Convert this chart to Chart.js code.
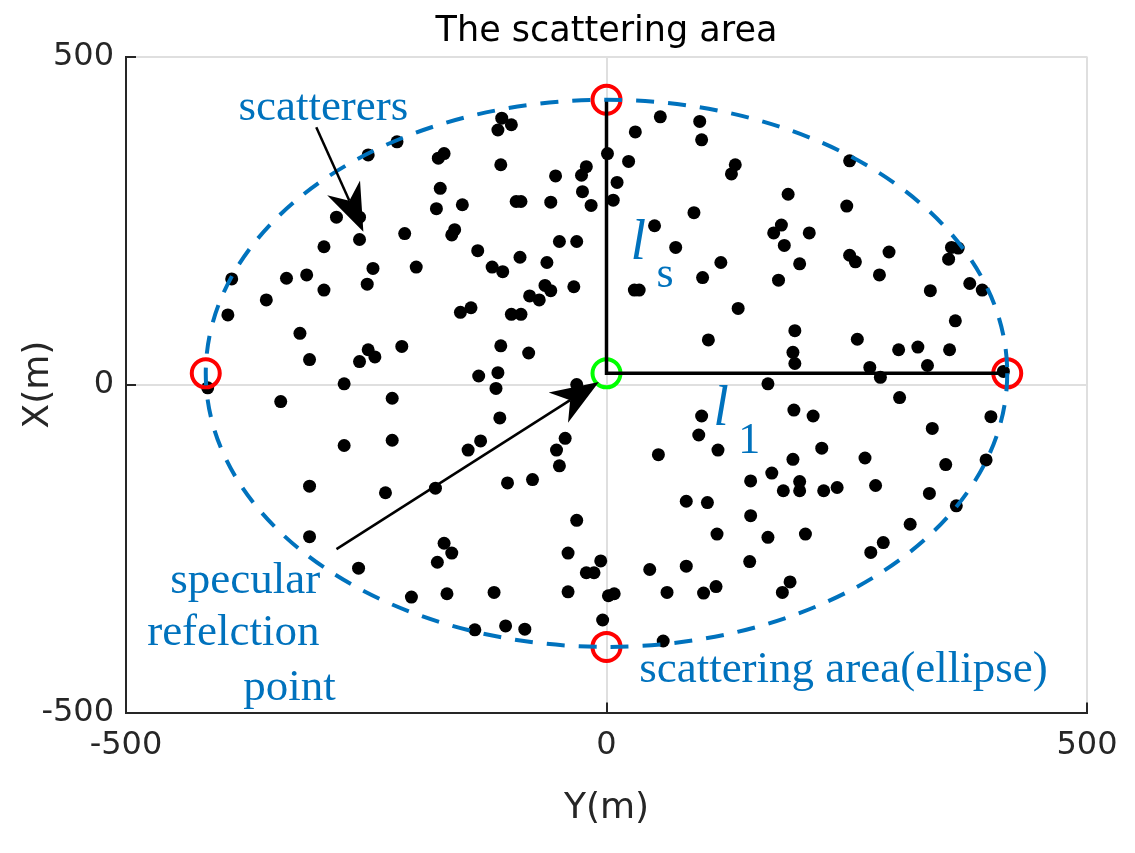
<!DOCTYPE html>
<html>
<head>
<meta charset="utf-8">
<title>The scattering area</title>
<script src="https://cdn.jsdelivr.net/npm/chart.js@4.4.1/dist/chart.umd.min.js"></script>
<style>
  html, body { margin: 0; padding: 0; background: #ffffff; }
  #chart { display: block; }
</style>
</head>
<body>
<canvas id="chart" width="1135" height="853"></canvas>
<script>
// scatterer positions (m)
const scatterX = [
  -218, -248, -175, -169, -173, -177, -281, -257, -257, -210, -161, -158, -294, -243, -198, -390,
  -333, -312, -294, -249, -354, -394, -319, -213, -248, -241, -257, -309, -273, -415, -152, -141,
  -109, -99, -113, 56, 97, 99, 30, 1, 23, 134, 130, -110, -53, -21, -26, 11, -25, -16, -94, -89,
  -58, -150, 7, 91, 50, -134, -49, -31, 72, -90, -119, -108, -62, 119, 100, -64, -58, -34, 29, 34,
  -80, -70, 137, -99, -89, 106, -110, -81, -133, -113, -31, -115, 168,
  253, 189, 250, 174, 182, 211, 185, 253, 259, 294, 201, 359, 366, 356, 284, 179, 378, 391, 337,
  363, 196, 261, 194, 196, 304, 324, 357, 274, 334, 285, 413,
  -223, -339, -273, -223, -309, -230, -178, -309, -169, -161, -176, -258, -203, -166,
  -111, -131, -144, -43, -52, -49, -103, -77, -31, -40, -6, -21, -13, -117, -40, 2, 8, -4, -137,
  -105, -85, 59, 99, 96, 116, 54, 150, 172, 83, 105, 150, 115, 168, 45, 83, 149, 63, 101, 114,
  305, 195, 215, 339, 400, 224, 194, 269, 353, 395, 201, 184, 201, 226, 240, 280, 336, 364, 316,
  207, 288, 275, 191, 183
];
const scatterY = [
  370, 350, 345, 352, 299, 268, 255, 255, 221, 230, 228, 236, 210, 177, 179, 161,
  162, 167, 144, 153, 129, 106, 78, 58, 53, 42, 35, 38, 1, -5, 110, 117,
  406, 396, 388, 408, 401, 373, 385, 352, 340, 335, 321, 335, 318, 332, 319, 308, 294, 273, 279, 279,
  278, 274, 281, 262, 242, 204, 218, 218, 209, 194, 179, 172, 186, 186, 163, 151, 143, 149, 144, 144,
  135, 129, 116, 107, 107, 68, 59, 48, 13, 18, 0, -6, 1,
  341, 290, 272, 231, 243, 231, 212, 197, 187, 202, 184, 209, 208, 191, 167, 159, 154, 144, 143,
  97, 82, 69, 49, 32, 53, 57, 53, 26, 29, 11, 20,
  -21, -26, -93, -85, -155, -165, -158, -232, -242, -257, -271, -280, -324, -319,
  -51, -86, -100, -82, -100, -124, -150, -145, -207, -257, -269, -287, -287, -317, -316, -322, -319, -359, -374,
  -368, -373, -391, -48, -77, -100, -107, -147, -135, -178, -180, -200, -228, -233, -282, -277, -270, -317, -318, -308,
  -20, -39, -48, -67, -49, -97, -114, -112, -122, -115, -148, -162, -162, -162, -157, -154, -166, -185, -213,
  -228, -241, -256, -301, -317
];

// ellipse vertices (red), specular point (green), l_s / l_1 segments
const vertexX = [-417, 417, 0, 0];
const vertexY = [17, 17, 434, -400];
const specularX = [0];
const specularY = [17];
const segmentX = [0, 0, 417];
const segmentY = [434, 17, 17];
const ellipseCenter = [0, 17];
const ellipseRadius = [417, 417];

const tickValues = [-500, 0, 500];

// annotation anchors in data units
const arrows = [
  { from: [-302, 392], to: [-253, 233] },
  { from: [-281, -251], to: [-8, 4] }
];
const labels = [
  { text: 'scatterers', x: -383, y: 403, size: 45, italic: false },
  { text: 'specular', x: -454, y: -318, size: 45, italic: false },
  { text: 'refelction', x: -478, y: -397, size: 45, italic: false },
  { text: 'point', x: -378, y: -481, size: 45, italic: false },
  { text: 'scattering area(ellipse)', x: 34, y: -453, size: 45, italic: false },
  { text: 'l', x: 25, y: 191, size: 56, italic: true },
  { text: 's', x: 52, y: 149, size: 44, italic: false },
  { text: 'l', x: 111, y: -62, size: 56, italic: true },
  { text: '1', x: 137, y: -104, size: 44, italic: false }
];

const BLUE = '#0072BD';
const AXIS = '#262626';
const SANS = "'DejaVu Sans', sans-serif";
const SERIF = "'Liberation Serif', 'Times New Roman', serif";

function toPoints(xs, ys) {
  return xs.map((v, i) => ({ x: v, y: ys[i] }));
}

function drawArrow(ctx, x0, y0, x1, y1) {
  const ang = Math.atan2(y1 - y0, x1 - x0);
  const c = Math.cos(ang), s = Math.sin(ang);
  const len = 48, half = 18, notch = 34;
  const bx = x1 - len * c, by = y1 - len * s;
  const nx = x1 - notch * c, ny = y1 - notch * s;
  ctx.beginPath();
  ctx.moveTo(x0, y0);
  ctx.lineTo(nx, ny);
  ctx.lineWidth = 2.5;
  ctx.stroke();
  ctx.beginPath();
  ctx.moveTo(x1, y1);
  ctx.lineTo(bx - half * s, by + half * c);
  ctx.lineTo(nx, ny);
  ctx.lineTo(bx + half * s, by - half * c);
  ctx.closePath();
  ctx.fill();
}

const scatteringPlugin = {
  id: 'scattering',
  beforeDatasetsDraw(chart) {
    // MATLAB style inward ticks
    const { ctx, chartArea, scales: { x, y } } = chart;
    ctx.save();
    ctx.strokeStyle = AXIS;
    ctx.lineWidth = 2;
    tickValues.forEach(v => {
      if (v === -500) return;
      const px = Math.round(x.getPixelForValue(v));
      ctx.beginPath();
      ctx.moveTo(px, chartArea.bottom);
      ctx.lineTo(px, chartArea.bottom - 10);
      ctx.stroke();
      const py = Math.round(y.getPixelForValue(v));
      ctx.beginPath();
      ctx.moveTo(chartArea.left, py);
      ctx.lineTo(chartArea.left + 10, py);
      ctx.stroke();
    });
    ctx.restore();
  },
  afterDatasetsDraw(chart) {
    const { ctx, scales: { x, y } } = chart;

    // dashed ellipse (scattering area)
    const cx = x.getPixelForValue(ellipseCenter[0]);
    const cy = y.getPixelForValue(ellipseCenter[1]);
    const rx = x.getPixelForValue(ellipseCenter[0] + ellipseRadius[0]) - cx;
    const ry = cy - y.getPixelForValue(ellipseCenter[1] + ellipseRadius[1]);
    ctx.save();
    ctx.beginPath();
    ctx.ellipse(cx, cy, rx, ry, 0, 0, Math.PI * 2);
    ctx.setLineDash([18, 14]);
    ctx.lineWidth = 4;
    ctx.strokeStyle = BLUE;
    ctx.stroke();
    ctx.restore();

    // arrows
    ctx.save();
    ctx.strokeStyle = '#000000';
    ctx.fillStyle = '#000000';
    arrows.forEach(a => {
      drawArrow(ctx,
        x.getPixelForValue(a.from[0]), y.getPixelForValue(a.from[1]),
        x.getPixelForValue(a.to[0]), y.getPixelForValue(a.to[1]));
    });
    ctx.restore();

    // text annotations
    ctx.save();
    ctx.fillStyle = BLUE;
    ctx.textAlign = 'left';
    ctx.textBaseline = 'alphabetic';
    labels.forEach(l => {
      ctx.font = (l.italic ? 'italic ' : '') + l.size + 'px ' + SERIF;
      ctx.fillText(l.text, x.getPixelForValue(l.x), y.getPixelForValue(l.y));
    });
    ctx.restore();
  }
};

function gridColor(c) {
  return c.tick && c.tick.value === -500 ? 'rgba(0,0,0,0)' : '#dfdfdf';
}

new Chart(document.getElementById('chart').getContext('2d'), {
  type: 'scatter',
  data: {
    datasets: [
      {
        label: 'segments',
        data: toPoints(segmentX, segmentY),
        showLine: true,
        borderColor: '#000000',
        borderWidth: 3.5,
        pointRadius: 0,
        fill: false,
        order: 1
      },
      {
        label: 'specular point',
        data: toPoints(specularX, specularY),
        pointStyle: 'circle',
        pointRadius: 14,
        borderWidth: 4,
        borderColor: '#00ff00',
        backgroundColor: 'rgba(0,0,0,0)',
        order: 2
      },
      {
        label: 'vertices',
        data: toPoints(vertexX, vertexY),
        pointStyle: 'circle',
        pointRadius: 14,
        borderWidth: 4,
        borderColor: '#ff0000',
        backgroundColor: 'rgba(0,0,0,0)',
        order: 3
      },
      {
        label: 'scatterers',
        data: toPoints(scatterX, scatterY),
        pointStyle: 'circle',
        pointRadius: 6.5,
        borderWidth: 0,
        backgroundColor: '#000000',
        order: 5
      }
    ]
  },
  options: {
    responsive: false,
    animation: false,
    devicePixelRatio: 1,
    layout: {
      padding: { left: 0, right: 48, top: 0, bottom: 0 }
    },
    plugins: {
      legend: { display: false },
      tooltip: { enabled: false },
      title: {
        display: true,
        text: 'The scattering area',
        fullSize: false,
        color: '#000000',
        font: { family: SANS, size: 35, weight: 'normal' },
        padding: { top: 11, bottom: 3.5 }
      }
    },
    scales: {
      x: {
        type: 'linear',
        min: -500,
        max: 500,
        afterBuildTicks: s => { s.ticks = tickValues.map(v => ({ value: v })); },
        afterFit: s => { s.height = 140.5; },
        ticks: {
          padding: 14,
          color: AXIS,
          maxRotation: 0,
          autoSkip: false,
          font: { family: SANS, size: 32 }
        },
        grid: { color: gridColor, lineWidth: 2, drawTicks: false },
        border: { color: AXIS, width: 2 },
        title: {
          display: true,
          text: 'Y(m)',
          color: AXIS,
          font: { family: SANS, size: 36 },
          padding: { top: 0, bottom: 23 }
        }
      },
      y: {
        type: 'linear',
        min: -500,
        max: 500,
        afterBuildTicks: s => { s.ticks = tickValues.map(v => ({ value: v })); },
        afterFit: s => { s.width = 126; },
        ticks: {
          padding: 12,
          color: AXIS,
          autoSkip: false,
          font: { family: SANS, size: 32 }
        },
        grid: { color: gridColor, lineWidth: 2, drawTicks: false },
        border: { color: AXIS, width: 2 },
        title: {
          display: true,
          text: 'X(m)',
          color: AXIS,
          font: { family: SANS, size: 36 },
          padding: { top: 17, bottom: 0 }
        }
      }
    }
  },
  plugins: [scatteringPlugin]
});
</script>
</body>
</html>
